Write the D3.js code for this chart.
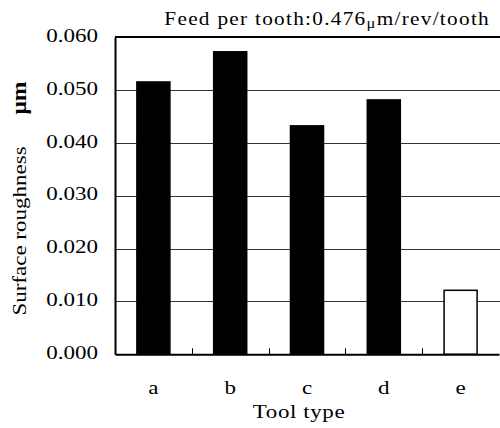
<!DOCTYPE html>
<html><head><meta charset="utf-8">
<script src="https://cdn.jsdelivr.net/npm/d3@7"></script>
<style>body{margin:0;background:#fff}svg{display:block}</style>
</head><body>
<svg id="c" width="500" height="428" style="font-family:'Liberation Serif',serif"></svg>
<script>
const categories = ["a","b","c","d","e"];
const values = [0.0515, 0.0572, 0.0432, 0.0481, 0.0121];
const fills = ["#000","#000","#000","#000","#fff"];
const yTicks = [0, 0.01, 0.02, 0.03, 0.04, 0.05, 0.06];

const SX = 1.18;
const FF = "'Liberation Serif', serif";
const svg = d3.select("#c");
const m = {l:115, r:1, t:37, b:74};
const W = 500, H = 428;
const x = d3.scaleBand().domain(categories).range([m.l, W - m.r]).paddingInner(0.57).paddingOuter(0.285);
const xb = d3.scaleBand().domain(categories).range([m.l, W - m.r]);
const y = d3.scaleLinear().domain([0, 0.06]).range([H - m.b + 0.3, m.t]);

// gridlines
svg.append("g").selectAll("line").data(yTicks.filter(d => d > 0 && d < 0.06)).join("line")
  .attr("x1", m.l).attr("x2", W).attr("y1", d => Math.round(y(d)) + 0.5).attr("y2", d => Math.round(y(d)) + 0.5)
  .attr("stroke", "#333").attr("stroke-width", 1);

// bars
svg.append("g").selectAll("rect").data(values).join("rect")
  .attr("x", (d,i) => x(categories[i]))
  .attr("width", x.bandwidth())
  .attr("y", d => y(d))
  .attr("height", d => y(0) - y(d))
  .attr("fill", (d,i) => fills[i])
  .attr("stroke", "#000").attr("stroke-width", 1.5);

// top border
svg.append("line").attr("x1", m.l).attr("x2", W).attr("y1", y(0.06)).attr("y2", y(0.06)).attr("stroke","#000").attr("stroke-width",2);

// y axis
const ya = svg.append("g").attr("transform", `translate(${m.l},0)`)
  .call(d3.axisLeft(y).tickValues(yTicks).tickFormat(d3.format(".3f")).tickSize(0));
ya.attr("font-family", FF);
ya.select(".domain").attr("stroke","#000").attr("stroke-width",2);
ya.selectAll("text").style("font-family", FF).attr("font-size", 19.5).attr("x", -17 / SX).attr("dy", "0.22em")
  .attr("transform", `scale(${SX},1)`);

// x axis
const xa = svg.append("g").attr("transform", `translate(0,${y(0)})`)
  .call(d3.axisBottom(xb).tickSize(0));
xa.attr("font-family", FF);
xa.select(".domain").attr("stroke","#000").attr("stroke-width",2);
xa.selectAll("text").style("font-family", FF).attr("font-size", 19.5).attr("x", 0).attr("y", 40).attr("dy", 0)
  .attr("transform", `scale(${SX},1)`);
// inner tick marks between categories
svg.append("g").selectAll("line").data(categories.slice(1)).join("line")
  .attr("x1", d => Math.round(xb(d)) + 0.5).attr("x2", d => Math.round(xb(d)) + 0.5)
  .attr("y1", y(0)).attr("y2", y(0) - 6).attr("stroke","#000").attr("stroke-width",1);

// x title
svg.append("text").style("font-family", FF).attr("transform", `translate(299,418) scale(${SX},1)`).attr("text-anchor","middle")
  .attr("font-size", 19.5).attr("letter-spacing", 0.5).text("Tool type");

// y title
svg.append("text").style("font-family", FF).attr("transform", `translate(26,231) rotate(-90) scale(${SX},1)`).attr("text-anchor","middle")
  .attr("font-size", 19.5).text("Surface roughness");
svg.append("text").style("font-family", FF).attr("transform", `translate(26,98) rotate(-90) scale(${SX},1)`).attr("text-anchor","middle")
  .attr("font-size", 20).attr("font-weight","bold").text("μm");

// title
const t = svg.append("text").style("font-family", FF).attr("transform", `translate(490,25) scale(${SX},1)`).attr("text-anchor","end")
  .attr("font-size", 18).attr("letter-spacing", 1.1);
t.append("tspan").text("Feed per tooth:0.476");
t.append("tspan").attr("font-size", 14).attr("dy", 3).text("μ");
t.append("tspan").attr("dy", -3).text("m/rev/tooth");
</script>
</body></html>
